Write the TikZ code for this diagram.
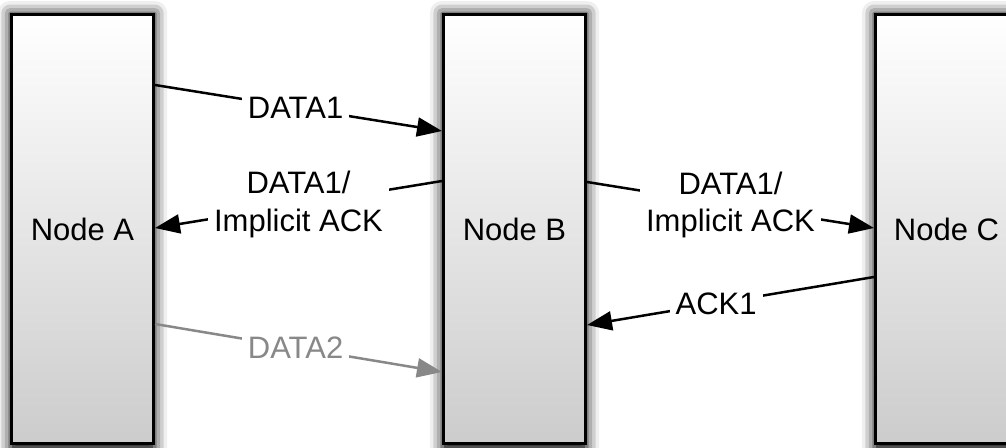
\documentclass[tikz,border=0pt]{standalone}
\usepackage{fontspec}
\setmainfont{Liberation Sans}
\usetikzlibrary{arrows.meta,shadows.blur}
\definecolor{boxbot}{RGB}{204,204,204}
\definecolor{msggray}{RGB}{136,136,136}
\begin{document}
\begin{tikzpicture}[x=1pt,y=-1pt,
  box/.style={draw=black, line width=3pt, minimum width=142pt, minimum height=429pt,
    top color=white, bottom color=boxbot, inner sep=0pt,
    blur shadow={shadow xshift=0pt, shadow yshift=-3pt, shadow blur radius=12pt, shadow opacity=100, shadow scale=1.02},
    font=\fontsize{31}{38}\selectfont},
  msg/.style={line width=2.5pt, -{Triangle[length=25pt,width=19pt]}},
  lbl/.style={fill=white, inner sep=6pt, align=center, font=\fontsize{31}{37.5}\selectfont}
]
\useasboundingbox (0,0) rectangle (1006,447);

\node[box] (A) at (82.5,229) {Node A};
\node[box] (B) at (514.5,229) {Node B};
\node[box] (C) at (946.5,229) {Node C};

\draw[msg] ([yshift=144pt]A.east) -- node[lbl, pos=0.49] {DATA1} ([yshift=98pt]B.west);
\draw[msg] ([yshift=48pt]B.west) -- node[lbl] {DATA1/\\Implicit ACK} ([yshift=1pt]A.east);
\draw[msg] ([yshift=47pt]B.east) -- node[lbl] {DATA1/\\Implicit ACK} ([yshift=1pt]C.west);
\draw[msg] ([yshift=-48pt]C.west) -- node[lbl, pos=0.55] {ACK1} ([yshift=-96pt]B.east);
\draw[msg, draw=msggray, fill=msggray] ([yshift=-95pt]A.east) -- node[lbl, text=msggray, pos=0.49] {DATA2} ([yshift=-143pt]B.west);
\end{tikzpicture}
\end{document}
